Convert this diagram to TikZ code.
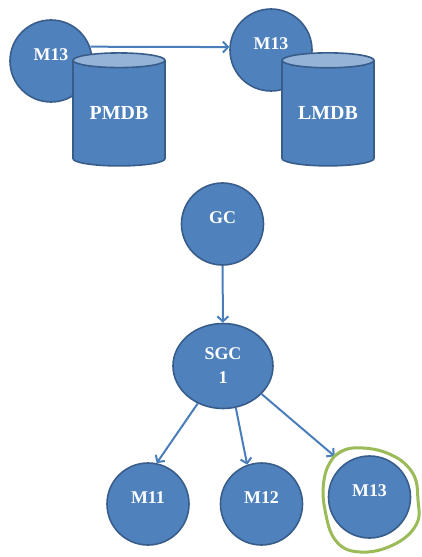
\documentclass[tikz,border=0pt]{standalone}
\usepackage{fontspec}
\setmainfont{Liberation Serif}
\usetikzlibrary{shapes.geometric}
\usetikzlibrary{positioning}
\usetikzlibrary{arrows.meta}
\definecolor{nodeblue}{RGB}{79,129,189}
\definecolor{rimblue}{RGB}{56,93,138}
\definecolor{capblue}{RGB}{149,179,215}
\definecolor{linkblue}{RGB}{74,126,187}
\definecolor{ringgreen}{RGB}{155,187,89}

\begin{document}
\begin{tikzpicture}[x=1bp, y=-1bp,
    >={Straight Barb[length=5bp,width=11bp]},
    mnode/.style={circle, draw=rimblue, line width=1.6bp, fill=nodeblue,
        text=white, font=\fontsize{18}{21}\selectfont\bfseries,
        minimum size=82bp, inner sep=0pt},
    lifted/.style={text depth=12bp},
    db/.style={cylinder, shape border rotate=90, aspect=0.25,
        draw=rimblue, line width=1.6bp, cylinder uses custom fill,
        cylinder body fill=nodeblue, cylinder end fill=capblue,
        text=white, font=\fontsize{20}{24}\selectfont\bfseries,
        minimum width=92bp, minimum height=113bp, inner sep=0pt},
    link/.style={->, draw=linkblue, line width=2bp}]

\useasboundingbox (0,0) rectangle (421,557);

% M13 moved from PMDB to LMDB
\node[mnode, lifted] (pm13) at (51,61) {M13};
\node[db] (pmdb) at (119,113.5) {PMDB};
\node[mnode, lifted] (lm13) at (271,50) {M13};
\node[db] (lmdb) at (328,113.5) {LMDB};
\draw[link] (pm13.20) -- (lm13.176);

% Hierarchy
\node[mnode, lifted] (gc) at (222.5,224) {GC};
\node[mnode, ellipse, minimum width=100bp, minimum height=85bp, align=center,
    font=\fontsize{18}{24}\selectfont\bfseries] (sgc) at (223,366) {SGC\\1};
\node[mnode, lifted] (m11) at (148,504) {M11};
\node[mnode, lifted] (m12) at (261.5,504) {M12};
\node[mnode, lifted] (m13) at (369.5,497) {M13};

\draw[link] (gc) -- (sgc);
\draw[link] (sgc.236) -- (m11.78);
\draw[link] (sgc.287) -- (m12.110);
\draw[link, shorten >=12bp] (sgc.324) -- (m13.128);

% Hand-drawn ring
\draw[ringgreen, line width=3bp, line cap=round] plot[smooth, tension=0.7]
    coordinates {(335,456) (353,448) (387,453) (412,472) (418,500) (416,525)
    (393,545) (360,552) (336,541) (325,510) (324,480) (333,458) (347,449)};

\end{tikzpicture}
\end{document}
